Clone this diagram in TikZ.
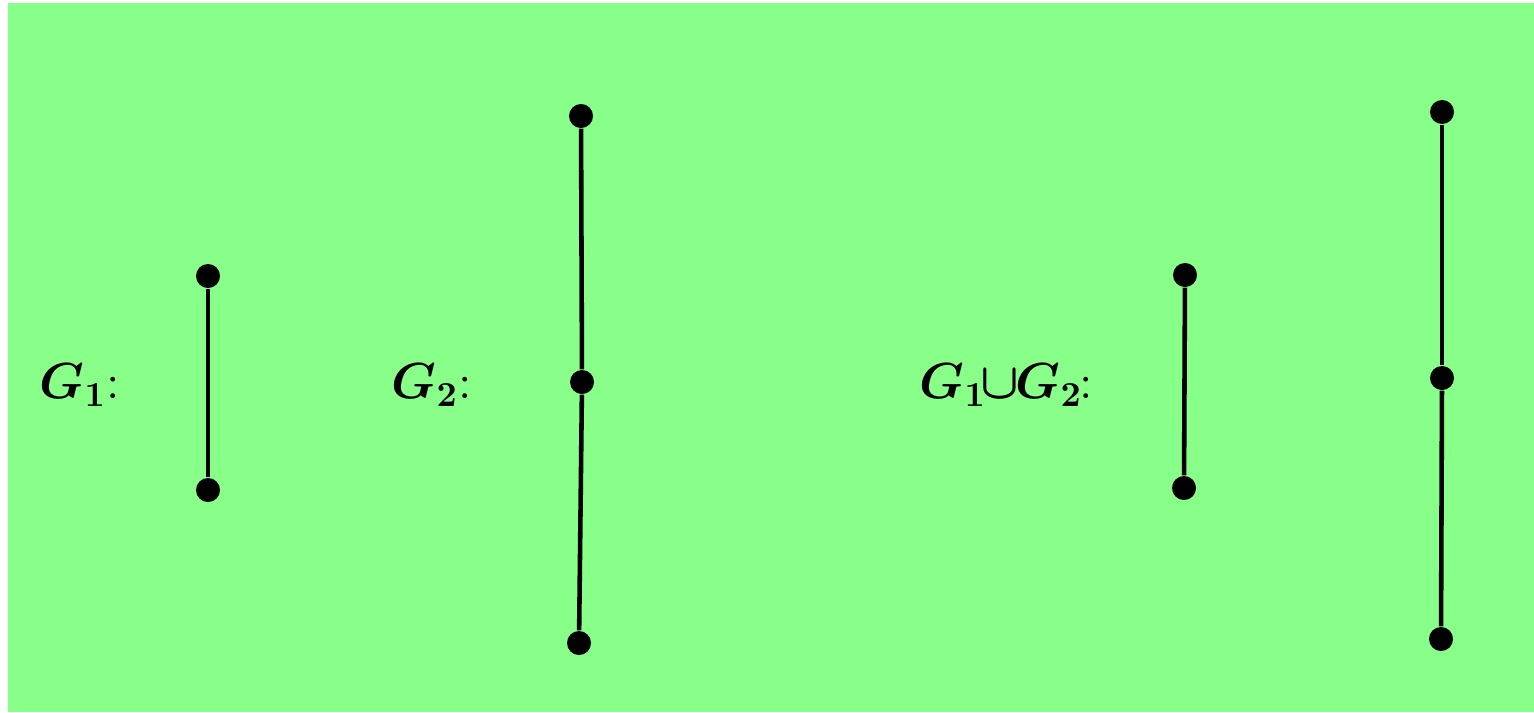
\documentclass[tikz,border=0pt]{standalone}
\usepackage{amsmath}
\definecolor{bggreen}{HTML}{88FF88}
\tikzset{
    vertex/.style={circle, fill=black, inner sep=0pt, minimum size=0.24cm},
    edge/.style={line width=1.3pt},
    glabel/.style={inner sep=0pt, anchor=west, font=\fontsize{14}{17}\selectfont\boldmath}
}
\begin{document}
\begin{tikzpicture}[x=0.01cm, y=-0.01cm]
    % Background
    \fill[white] (0,0) rectangle (1534,712);
    \fill[bggreen] (8,3) rectangle (1534,712);
    \useasboundingbox (0,0) rectangle (1534,712);

    % Labels
    \node (lab1) [glabel] at (39,385) {$G_1$:};
    \node (lab2) [glabel] at (391,385) {$G_2$:};
    \node (lab3) [glabel] at (919,385) {$G_1\mkern-2mu{\cup}\mkern-1mu G_2$\kern-1pt:};

    % G1
    \node (a1) [vertex] at (208,276) {};
    \node (a2) [vertex] at (208,490) {};

    % G2
    \node (b1) [vertex] at (581,116) {};
    \node (b2) [vertex] at (582,382) {};
    \node (b3) [vertex] at (579,643) {};

    % G1 union G2
    \node (c1) [vertex] at (1185,275) {};
    \node (c2) [vertex] at (1184,488) {};
    \node (d1) [vertex] at (1442,112) {};
    \node (d2) [vertex] at (1442,378) {};
    \node (d3) [vertex] at (1441,639) {};

    % Edges
    \draw[edge] (a1) -- (a2);
    \draw[edge] (b1) -- (b2);
    \draw[edge] (b2) -- (b3);
    \draw[edge] (c1) -- (c2);
    \draw[edge] (d1) -- (d2);
    \draw[edge] (d2) -- (d3);
\end{tikzpicture}
\end{document}
